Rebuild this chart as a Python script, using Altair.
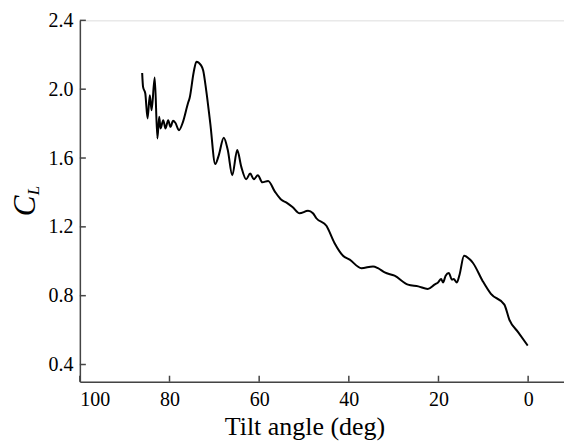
import altair as alt
import pandas as pd

tilt = [86.1, 85.9, 85.4, 84.9, 84.4, 84.0, 83.3, 82.7, 82.3, 82.0, 81.4, 80.9, 80.3,
        79.8, 79.2, 78.7, 77.9, 77.0, 75.9, 75.5, 74.6, 74.0, 73.0, 72.5, 71.8, 70.9,
        69.8, 69.0, 67.9, 67.0, 66.0, 64.9, 64.0, 62.9, 62.0, 61.2, 60.3, 59.3, 58.0,
        56.5, 55.05, 53.9, 52.5, 51.0, 49.1, 48.0, 47.25, 45.0, 43.2, 41.3, 39.8, 37.2,
        34.6, 33.5, 32.0, 29.8, 26.8, 24.5, 22.4, 20.9, 20.1, 19.4, 19.0, 18.4, 17.7,
        17.0, 16.6, 15.9, 15.3, 14.3, 13.1, 12.3, 10.1, 8.3, 5.3, 4.2, 2.2, 0.1]
cl = [2.094, 2.013, 1.975, 1.83, 1.965, 1.878, 2.068, 1.714, 1.84, 1.772, 1.82, 1.772, 1.82,
      1.781, 1.816, 1.805, 1.762, 1.81, 1.917, 1.95, 2.10, 2.16, 2.14, 2.11, 1.99, 1.80,
      1.565, 1.617, 1.718, 1.646, 1.50, 1.646, 1.55, 1.477, 1.51, 1.477, 1.50, 1.459, 1.467,
      1.405, 1.357, 1.341, 1.314, 1.279, 1.293, 1.279, 1.25, 1.206, 1.106, 1.032, 1.009, 0.96,
      0.97, 0.96, 0.935, 0.916, 0.864, 0.854, 0.839, 0.864, 0.877, 0.897, 0.877, 0.916, 0.932,
      0.893, 0.897, 0.877, 0.922, 1.032, 1.013, 0.99, 0.883, 0.81, 0.748, 0.661, 0.587, 0.51]

x_ticks = [0, 20, 40, 60, 80, 100]
y_ticks = [0.4, 0.8, 1.2, 1.6, 2.0, 2.4]

W, H = 485, 362
FONT = "Liberation Serif"

df = pd.DataFrame({"tilt": tilt, "cl": cl, "i": list(range(len(tilt)))})

xs = alt.Scale(domain=[100, -8], nice=False, zero=False)
ys = alt.Scale(domain=[0.3, 2.4], nice=False, zero=False)

line = alt.Chart(df).mark_line(color="black", strokeWidth=2, interpolate="monotone").encode(
    x=alt.X("tilt:Q", scale=xs, axis=alt.Axis(
        values=x_ticks, ticks=False, grid=False, labelFont=FONT, labelFontSize=20,
        labelColor="black", labelPadding=8, domainColor="#444", domainWidth=1.5,
        title="Tilt angle (deg)", titleFont=FONT, titleFontSize=26, titleFontWeight="normal",
        titleColor="black", titleX=225, titleY=53, titleAlign="center",
        titleBaseline="alphabetic")),
    y=alt.Y("cl:Q", scale=ys, axis=alt.Axis(
        values=y_ticks, format=".1f", ticks=False, grid=False, labelFont=FONT,
        labelFontSize=20, labelColor="black", labelPadding=7, domainColor="#444",
        domainWidth=1.5, title=None)),
    order="i:Q",
)

xt = alt.Chart(pd.DataFrame({"v": x_ticks})).mark_rule(color="#444", strokeWidth=1.5).encode(
    x=alt.X("v:Q", scale=xs), y=alt.value(H), y2=alt.value(H - 6))
yt = alt.Chart(pd.DataFrame({"v": y_ticks})).mark_rule(color="#444", strokeWidth=1.5).encode(
    y=alt.Y("v:Q", scale=ys), x=alt.value(0), x2=alt.value(6))

c_lab = alt.Chart(pd.DataFrame({"t": ["C"]})).mark_text(
    font=FONT, fontSize=31, fontStyle="italic", angle=270, align="center",
    baseline="middle", color="black").encode(
    text="t:N", x=alt.value(-54), y=alt.value(186))
l_lab = alt.Chart(pd.DataFrame({"t": ["L"]})).mark_text(
    font=FONT, fontSize=17, fontStyle="italic", angle=270, align="center",
    baseline="middle", color="black").encode(
    text="t:N", x=alt.value(-45.5), y=alt.value(170.5))

chart = alt.layer(line, xt, yt, c_lab, l_lab).properties(
    width=W, height=H,
    autosize=alt.AutoSizeParams(type="none"),
    padding={"left": 80, "top": 20, "right": 0, "bottom": 61},
).configure_view(stroke="#444", strokeWidth=1.5).configure(background="white")

chart.save("out.html", embed_options={"renderer": "svg", "actions": False})
